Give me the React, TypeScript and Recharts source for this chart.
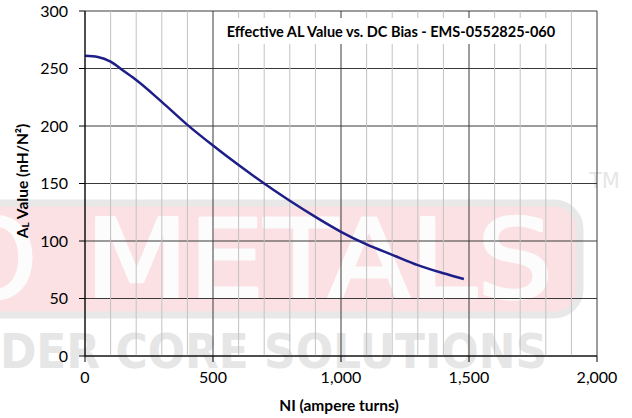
import React from 'react';
import {
  LineChart,
  Line,
  XAxis,
  YAxis,
  CartesianGrid,
  ReferenceLine,
} from 'recharts';

// NI (ampere turns) vs effective AL value (nH/N²)
const niValues = [0, 50, 100, 150, 200, 300, 400, 500, 600, 700, 800, 900, 1000, 1100, 1200, 1300, 1400, 1480];
const alValues = [261, 260, 256, 248, 240, 221, 201, 183, 166, 150, 135, 121, 108, 97, 88, 79, 72, 67];

const xTicks = [0, 500, 1000, 1500, 2000];
const yTicks = [0, 50, 100, 150, 200, 250, 300];
const minorX = [100, 200, 300, 400, 600, 700, 800, 900, 1100, 1200, 1300, 1400, 1600, 1700, 1800, 1900];

const chartTitle = 'Effective AL Value vs. DC Bias - EMS-0552825-060';
const xTitle = 'NI (ampere turns)';

const data = niValues.map((ni, i) => ({ ni, al: alValues[i] }));

const FONT = 'Lato, "Open Sans", sans-serif';
const WM_FONT = '"DejaVu Sans", sans-serif';

function Watermark() {
  return (
    <svg width={632} height={418} style={{ position: 'absolute', left: 0, top: 0 }}>
      <rect x={-40} y={203} width={620} height={112} rx={26} fill="#fbe1e4" stroke="#e8e8e8" strokeWidth={7} />
      <text
        x={37}
        y={297}
        textAnchor="end"
        fontFamily={WM_FONT}
        fontSize={108}
        fill="#fcfcfc"
        stroke="#fcfcfc"
        strokeWidth={3}
        strokeLinejoin="round"
      >
        MICRO
      </text>
      <text
        x={85}
        y={297}
        textLength={468}
        lengthAdjust="spacingAndGlyphs"
        fontFamily={WM_FONT}
        fontSize={108}
        fill="#fcfcfc"
        stroke="#fcfcfc"
        strokeWidth={3}
        strokeLinejoin="round"
      >
        METALS
      </text>
      <text
        x={-118}
        y={368}
        textLength={665}
        lengthAdjust="spacingAndGlyphs"
        fontFamily={WM_FONT}
        fontWeight="bold"
        fontSize={48}
        fill="#e6e6e6"
      >
        POWDER CORE SOLUTIONS
      </text>
      <text x={589} y={188} fontFamily={WM_FONT} fontSize={21} fill="#e6e6e6">
        TM
      </text>
    </svg>
  );
}

export default function App() {
  return (
    <div style={{ position: 'relative', width: 632, height: 418, overflow: 'hidden', background: '#fff' }}>
      <style>{'html, body { margin: 0; padding: 0; overflow: hidden; }'}</style>
      <Watermark />
      <div style={{ position: 'absolute', left: 0, top: 0 }}>
        <LineChart width={632} height={418} data={data} margin={{ top: 11, right: 35, bottom: 0, left: 0 }}>
          <CartesianGrid stroke="#3a3a3a" strokeWidth={1} />
          {minorX.map((v) => (
            <ReferenceLine key={v} x={v} stroke="#c2c2c2" strokeWidth={1} />
          ))}
          <XAxis
            dataKey="ni"
            type="number"
            domain={[0, 2000]}
            ticks={xTicks}
            tickFormatter={(v: number) => v.toLocaleString('en-US')}
            height={62}
            tickSize={6}
            tickMargin={10}
            stroke="#000"
            tick={{ fill: '#000', fontSize: 16, fontFamily: FONT }}
          />
          <YAxis
            type="number"
            domain={[0, 300]}
            ticks={yTicks}
            width={85}
            tickSize={6}
            tickMargin={11}
            stroke="#000"
            tick={{ fill: '#000', fontSize: 16, fontFamily: FONT }}
          />
          <Line
            type="monotone"
            dataKey="al"
            stroke="#1e1e88"
            strokeWidth={2.5}
            dot={false}
            isAnimationActive={false}
          />
        </LineChart>
      </div>
      <svg width={632} height={418} style={{ position: 'absolute', left: 0, top: 0, pointerEvents: 'none' }}>
        <text
          x={22}
          y={181}
          transform="rotate(-90 22 181)"
          textAnchor="middle"
          dominantBaseline="central"
          fontFamily={FONT}
          fontWeight="bold"
          fontSize={15.5}
          fill="#000"
        >
          A<tspan fontSize={10} dy={3}>L</tspan>
          <tspan dy={-3}> Value (nH/N²)</tspan>
        </text>
        <text x={339} y={405} textAnchor="middle" dominantBaseline="central" fontFamily={FONT} fontWeight="bold" fontSize={15.5} fill="#000">
          {xTitle}
        </text>
        <rect x={219} y={18} width={344} height={26} fill="#fff" />
        <text x={391} y={31} textAnchor="middle" dominantBaseline="central" fontFamily={FONT} fontWeight="bold" fontSize={14.5} fill="#000">
          {chartTitle}
        </text>
      </svg>
    </div>
  );
}
